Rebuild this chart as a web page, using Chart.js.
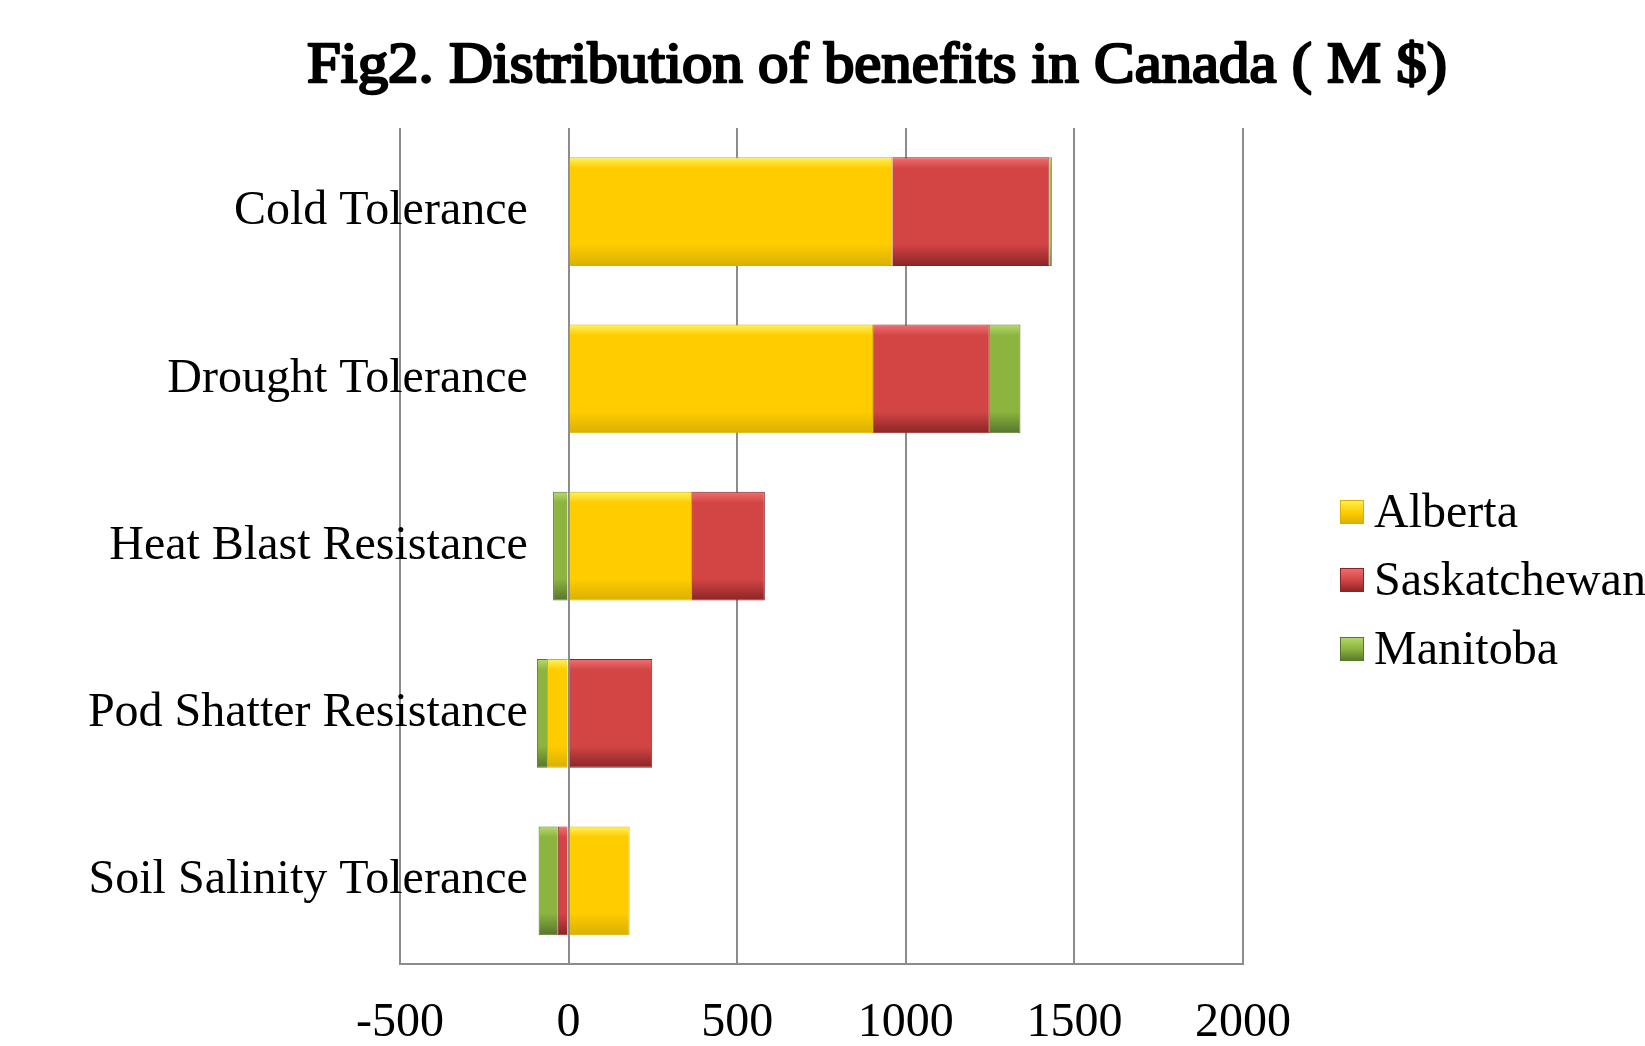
<!DOCTYPE html>
<html>
<head>
<meta charset="utf-8">
<script src="https://cdn.jsdelivr.net/npm/chart.js@4.4.1/dist/chart.umd.min.js"></script>
<style>
  html, body { margin: 0; padding: 0; background: #fff; }
  #wrap { width: 1645px; height: 1046px; }
</style>
</head>
<body>
<div id="wrap"><canvas id="benefits"></canvas></div>
<script>
const categories = ['Cold Tolerance', 'Drought Tolerance', 'Heat Blast Resistance', 'Pod Shatter Resistance', 'Soil Salinity Tolerance'];
const alberta = [960, 903, 366, -64, 181];
const saskatchewan = [466, 346, 216, 248, -32];
const manitoba = [7, 91, -46, -30, -57];
const xTicks = [-500, 0, 500, 1000, 1500, 2000];
const chartTitle = 'Fig2. Distribution of benefits in Canada ( M $)';

const serif = "'Times New Roman', 'Liberation Serif', serif";

// colours: [light edge, main, dark edge]
const shades = {
  Alberta: ['#fff35a', '#ffcc00', '#d9b000'],
  Saskatchewan: ['#f07070', '#d34545', '#8a2424'],
  Manitoba: ['#b6da6c', '#8cb43f', '#56752a']
};

// fake Excel bevel: vertical gradient per bar
const bevel = {
  id: 'bevel',
  beforeDatasetsDraw(chart) {
    const c = chart.ctx;
    chart.data.datasets.forEach((ds, i) => {
      const s = shades[ds.label];
      chart.getDatasetMeta(i).data.forEach(el => {
        const top = el.y - el.height / 2, bot = el.y + el.height / 2;
        const g = c.createLinearGradient(0, top, 0, bot);
        g.addColorStop(0, s[0]);
        g.addColorStop(0.1, s[1]);
        g.addColorStop(0.8, s[1]);
        g.addColorStop(1, s[2]);
        el.options.backgroundColor = g;
        el.options.borderColor = s[2];
      });
    });
  }
};

// the bold serif face here comes out condensed, so the title is
// drawn from the regular face, stroked and stretched to the original width
const boldTitle = {
  id: 'boldTitle',
  afterDraw(chart) {
    const c = chart.ctx;
    c.save();
    c.font = '57px ' + serif;
    const w = c.measureText(chartTitle).width;
    c.translate(877, 82);
    c.scale(1140 / w, 1);
    c.textAlign = 'center';
    c.textBaseline = 'alphabetic';
    c.fillStyle = '#000';
    c.strokeStyle = '#000';
    c.lineWidth = 2.4;
    c.lineJoin = 'round';
    c.fillText(chartTitle, 0, 0);
    c.strokeText(chartTitle, 0, 0);
    c.restore();
  }
};

// legend on the right, drawn by hand so it sits where the original does
const sideLegend = {
  id: 'sideLegend',
  afterDraw(chart) {
    const c = chart.ctx;
    const ys = [512, 580, 649];
    c.save();
    c.font = '48px ' + serif;
    c.textBaseline = 'middle';
    c.textAlign = 'left';
    chart.data.datasets.forEach((ds, i) => {
      const s = shades[ds.label];
      const g = c.createLinearGradient(0, ys[i] - 12, 0, ys[i] + 12);
      g.addColorStop(0, s[0]);
      g.addColorStop(0.5, s[1]);
      g.addColorStop(1, s[2]);
      c.fillStyle = g;
      c.fillRect(1340, ys[i] - 12, 24, 24);
      c.strokeStyle = s[2];
      c.lineWidth = 1;
      c.strokeRect(1340.5, ys[i] - 11.5, 23, 23);
      c.fillStyle = '#000';
      c.fillText(ds.label, 1374, ys[i] + 2);
    });
    c.restore();
  }
};

// scriptable colours so every bar gets its own options object
const colourOf = name => () => shades[name][1];

new Chart(document.getElementById('benefits'), {
  type: 'bar',
  data: {
    labels: categories,
    datasets: [
      { label: 'Alberta', data: alberta, backgroundColor: colourOf('Alberta') },
      { label: 'Saskatchewan', data: saskatchewan, backgroundColor: colourOf('Saskatchewan') },
      { label: 'Manitoba', data: manitoba, backgroundColor: colourOf('Manitoba') }
    ]
  },
  options: {
    indexAxis: 'y',
    responsive: true,
    maintainAspectRatio: false,
    animation: false,
    barPercentage: 0.65,
    categoryPercentage: 1.0,
    borderWidth: 1,
    layout: { padding: { left: 400, right: 402, top: 128, bottom: -36 } },
    scales: {
      x: {
        stacked: true,
        min: -500,
        max: 2000,
        afterBuildTicks: axis => { axis.ticks = xTicks.map(v => ({ value: v })); },
        grid: { color: '#8c8c8c', lineWidth: 2, drawTicks: false },
        border: { color: '#8c8c8c', width: 2 },
        ticks: {
          color: '#000', padding: 30, font: { family: serif, size: 48 },
          callback: v => String(v)
        }
      },
      y: {
        stacked: true,
        // labels end a little left of the zero line, as in the original
        position: { x: -121 },
        grid: { display: false, drawTicks: false },
        border: { display: false },
        ticks: { color: '#000', padding: 0, font: { family: serif, size: 48 } }
      }
    },
    plugins: {
      legend: { display: false },
      tooltip: { enabled: false },
      title: { display: false }
    }
  },
  plugins: [bevel, boldTitle, sideLegend]
});
</script>
</body>
</html>
